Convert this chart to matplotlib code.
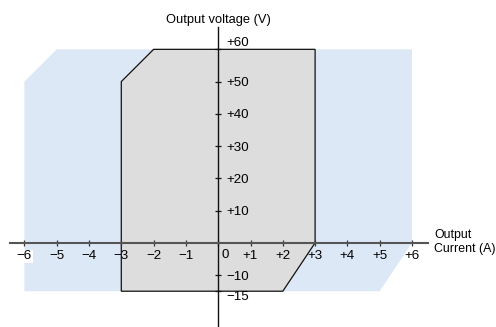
import matplotlib
matplotlib.use("Agg")
import matplotlib.pyplot as plt
from matplotlib.patches import Polygon

plt.rcParams['font.family'] = ['Liberation Sans', 'DejaVu Sans']

# operating envelope corners (current A, voltage V)
outer_current = [-6, -6, -5, 6, 6, 5]
outer_voltage = [-15, 50, 60, 60, 0, -15]
inner_current = [-3, -3, -2, 3, 3, 2]
inner_voltage = [-15, 50, 60, 60, 0, -15]

x_ticks = [-6, -5, -4, -3, -2, -1, 0, 1, 2, 3, 4, 5, 6]
x_labels = ['\u22126', '\u22125', '\u22124', '\u22123', '\u22122', '\u22121', '',
            '+1', '+2', '+3', '+4', '+5', '+6']
y_ticks = [-15, -10, 10, 20, 30, 40, 50, 60]
y_labels = ['\u221215', '\u221210', '+10', '+20', '+30', '+40', '+50', '+60']

fig = plt.figure(figsize=(4.96, 3.27), dpi=100)
ax = fig.add_axes([0, 0, 1, 1])
ax.set_xlim(-6.755, 8.6)
ax.set_ylim(-26.1, 75.3)

ax.add_patch(Polygon(list(zip(outer_current, outer_voltage)), closed=True,
                     facecolor='#dde8f6', edgecolor='none', zorder=1))
ax.add_patch(Polygon(list(zip(inner_current, inner_voltage)), closed=True,
                     facecolor='#dddddd', edgecolor='#111111', lw=0.9, zorder=1.5))

# axes crossing at the origin
for s in ['left', 'top']:
    ax.spines[s].set_visible(False)
ax.spines['bottom'].set_position(('data', 0))
ax.spines['bottom'].set_bounds(-6.45, 6.5)
ax.spines['bottom'].set_color('#555555')
ax.spines['bottom'].set_linewidth(1.5)
ax.spines['right'].set_position(('data', 0))
ax.spines['right'].set_bounds(-26.5, 66.8)
ax.spines['right'].set_color('#111111')
ax.spines['right'].set_linewidth(1.0)
ax.yaxis.set_ticks_position('right')

ax.set_xticks(x_ticks)
ax.set_xticklabels(x_labels)
ax.set_yticks(y_ticks)
ax.set_yticklabels(y_labels)
ax.tick_params(axis='x', direction='inout', length=5, width=0.9, color='#333333',
               pad=3, labelsize=9.6)
ax.tick_params(axis='y', direction='inout', length=5, width=0.9, color='#111111',
               pad=3.5, labelsize=9.6)

for t, v in zip(ax.yaxis.get_major_ticks(), y_ticks):
    if v == 60:
        t.label2.set_verticalalignment('bottom')
    elif v == -15:
        t.label2.set_verticalalignment('top')
        t.label2.set_y(-16)

ax.xaxis.get_major_ticks()[0].label1.set_bbox(dict(facecolor='white', edgecolor='none', pad=0.5))

ax.annotate('0', xy=(0, 0), xytext=(2.3, -4.8), textcoords='offset points',
            ha='left', va='top', fontsize=9.6)

ax.text(0, 68.3, 'Output voltage (V)', ha='center', va='baseline', fontsize=9.3)
ax.text(6.69, 0.3, 'Output\nCurrent (A)', ha='left', va='center', fontsize=8.9,
        linespacing=1.2)

fig.savefig('out.png', dpi=100)
